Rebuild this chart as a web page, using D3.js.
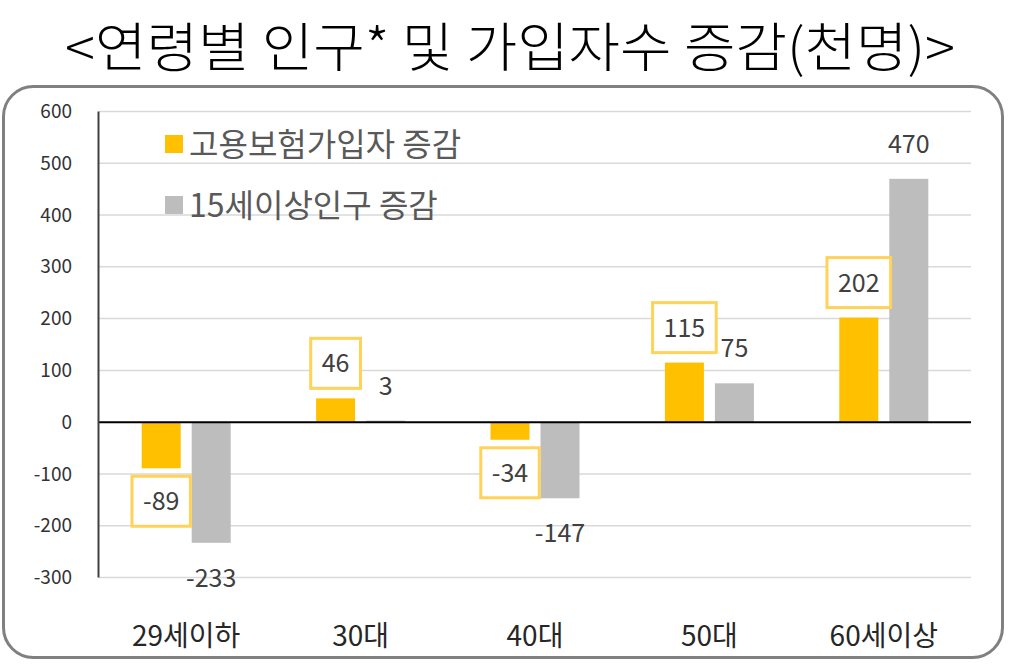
<!DOCTYPE html>
<html>
<head>
<meta charset="utf-8">
<script src="https://cdn.jsdelivr.net/npm/d3@7"></script>
<style>
  body { margin: 0; background: #fff; }
  svg { display: block; font-family: "Noto Sans CJK KR", "Noto Sans", sans-serif; }
</style>
</head>
<body>
<svg id="chart" width="1012" height="668"></svg>
<script>
// values (thousand persons)
const categories = ['29세이하', '30대', '40대', '50대', '60세이상'];
const insuredChange = [-89, 46, -34, 115, 202];
const populationChange = [-233, 3, -147, 75, 470];
const seriesNames = ['고용보험가입자 증감', '15세이상인구 증감'];
const seriesColors = ['#FFC000', '#BDBDBD'];
const yTicks = [600, 500, 400, 300, 200, 100, 0, -100, -200, -300];
const titleText = '<연령별 인구* 및 가입자수 증감(천명)>';

const svg = d3.select('#chart');

// title (tall, narrow look)
svg.append('g')
    .attr('transform', 'translate(510,67) scale(1,1.15)')
  .append('text')
    .attr('text-anchor', 'middle')
    .attr('font-size', 46)
    .attr('font-weight', 300)
    .attr('fill', '#000')
    .attr('textLength', 890)
    .attr('lengthAdjust', 'spacingAndGlyphs')
    .text(titleText);

// rounded frame
svg.append('rect')
    .attr('x', 3.5).attr('y', 86.5)
    .attr('width', 999).attr('height', 571)
    .attr('rx', 30).attr('ry', 30)
    .attr('fill', 'none')
    .attr('stroke', '#808080')
    .attr('stroke-width', 3);

const left = 99, right = 971;
const y = d3.scaleLinear().domain([-300, 600]).range([577.5, 111.5]);
const x0 = d3.scaleBand().domain(categories).range([left, right]).padding(0);
const bw = x0.bandwidth();
const x1 = d3.scaleBand().domain([0, 1])
    .range([bw / 2 - 50, bw / 2 + 50])
    .paddingInner(0.22).paddingOuter(0.11);

// gridlines
svg.append('g').selectAll('line')
    .data(yTicks.filter(function(d) { return d !== 0; }))
    .enter().append('line')
    .attr('x1', left).attr('x2', right)
    .attr('y1', function(d) { return y(d); })
    .attr('y2', function(d) { return y(d); })
    .attr('stroke', '#D9D9D9')
    .attr('stroke-width', 1.5);

// y tick labels
svg.append('g').selectAll('text')
    .data(yTicks)
    .enter().append('text')
    .attr('x', 72)
    .attr('y', function(d) { return y(d); })
    .attr('dy', '0.35em')
    .attr('text-anchor', 'end')
    .attr('font-size', 19)
    .attr('fill', '#333')
    .text(function(d) { return d; });

// bars
const series = [insuredChange, populationChange];
const groups = svg.append('g').selectAll('g')
    .data(categories)
    .enter().append('g')
    .attr('transform', function(d) { return 'translate(' + x0(d) + ',0)'; });

groups.selectAll('rect')
    .data(function(d, i) { return series.map(function(s, k) { return { k: k, v: s[i] }; }); })
    .enter().append('rect')
    .attr('x', function(d) { return x1(d.k); })
    .attr('width', x1.bandwidth())
    .attr('y', function(d) { return y(Math.max(0, d.v)); })
    .attr('height', function(d) { return Math.abs(y(d.v) - y(0)); })
    .attr('fill', function(d) { return seriesColors[d.k]; });

// axes lines
svg.append('line')
    .attr('x1', left).attr('x2', right)
    .attr('y1', y(0)).attr('y2', y(0))
    .attr('stroke', '#000').attr('stroke-width', 2);
svg.append('line')
    .attr('x1', left - 0.5).attr('x2', left - 0.5)
    .attr('y1', y(600)).attr('y2', y(-300))
    .attr('stroke', '#404040').attr('stroke-width', 2);

// category labels
svg.append('g').selectAll('text')
    .data(categories)
    .enter().append('text')
    .attr('x', function(d) { return x0(d) + bw / 2; })
    .attr('y', 646)
    .attr('text-anchor', 'middle')
    .attr('font-size', 28)
    .attr('fill', '#262626')
    .text(function(d) { return d; });

// insured labels in boxes
groups.each(function(c, i) {
    const v = insuredChange[i];
    const g = d3.select(this);
    const cx = x1(0) + x1.bandwidth() / 2;
    const boxH = 50;
    const boxY = v >= 0 ? y(v) - 10 - boxH : y(v) + 8;
    const t = g.append('text')
        .attr('x', cx)
        .attr('y', boxY + boxH / 2)
        .attr('dy', '0.36em')
        .attr('text-anchor', 'middle')
        .attr('font-size', 25)
        .attr('fill', '#404040')
        .text(v);
    const w = t.node().getComputedTextLength() + 22;
    g.insert('rect', 'text')
        .attr('x', cx - w / 2).attr('y', boxY)
        .attr('width', w).attr('height', boxH)
        .attr('fill', '#fff')
        .attr('stroke', '#FFD25A')
        .attr('stroke-width', 3);
});

// population labels
groups.append('text')
    .attr('x', x1(1) + x1.bandwidth() / 2)
    .attr('y', function(d, i) {
        const v = populationChange[i];
        return v >= 0 ? y(v) - 26 : y(v) + 26 + 18;
    })
    .attr('text-anchor', 'middle')
    .attr('font-size', 25)
    .attr('fill', '#404040')
    .text(function(d, i) { return populationChange[i]; });

// legend
const legend = svg.append('g').selectAll('g')
    .data(seriesNames)
    .enter().append('g')
    .attr('transform', function(d, i) { return 'translate(165,' + (135 + i * 61) + ')'; });
legend.append('rect')
    .attr('width', 18).attr('height', 18)
    .attr('fill', function(d, i) { return seriesColors[i]; });
legend.append('text')
    .attr('x', 24).attr('y', 9)
    .attr('dy', '0.36em')
    .attr('font-size', 32)
    .attr('fill', '#595959')
    .text(function(d) { return d; });
</script>
</body>
</html>
